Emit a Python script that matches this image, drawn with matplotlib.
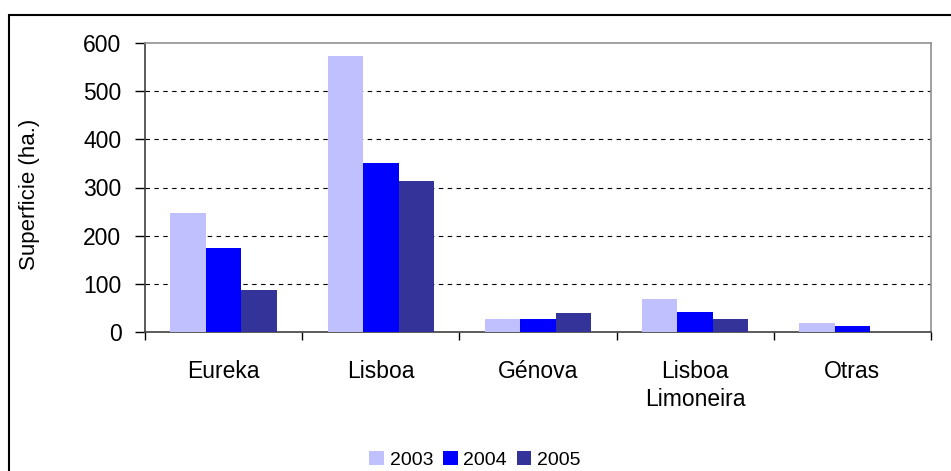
import numpy as np
import matplotlib.pyplot as plt
from matplotlib.patches import Rectangle

plt.rcParams['font.family'] = ['Liberation Sans', 'DejaVu Sans']

categories = ["Eureka", "Lisboa", "Génova", "Lisboa\nLimoneira", "Otras"]
years = ["2003", "2004", "2005"]
v2003 = [247, 573, 28, 68, 18]
v2004 = [174, 351, 28, 41, 12]
v2005 = [87, 313, 39, 28, 0]
colors = ["#C0C0FF", "#0000FF", "#333399"]

fig = plt.figure(figsize=(9.51, 4.71), dpi=100)
ax = fig.add_axes([145 / 951, 1 - 332 / 471, 786 / 951, 289 / 471])

x = np.arange(len(categories))
w = 0.226
for i, (vals, yr) in enumerate(zip([v2003, v2004, v2005], years)):
    ax.bar(x + (i - 1) * w, vals, w, color=colors[i], label=yr, zorder=3)

ax.set_xlim(-0.5, len(categories) - 0.5)
ax.set_ylim(0, 600)
ax.set_yticks(range(0, 601, 100))
ax.tick_params(axis='y', labelsize=16.5, length=7, width=1, pad=10, colors='black')

# category boundaries as major ticks, names on minor ticks
ax.set_xticks(np.arange(-0.5, len(categories), 1.0))
ax.set_xticklabels([])
ax.set_xticks(x, minor=True)
labs = ax.set_xticklabels(categories, minor=True, fontsize=16.5)
for t in labs:
    t.set_linespacing(1.3)
ax.tick_params(axis='x', which='major', length=6, width=1)
ax.tick_params(axis='x', which='minor', length=0, pad=20)

for y in range(100, 600, 100):
    ax.axhline(y, color='black', lw=0.8, ls=(0, (4, 4)), zorder=1)

ax.spines['left'].set_color('#404040')
ax.spines['bottom'].set_color('#404040')
ax.spines['top'].set_color('#909090')
ax.spines['right'].set_color('#909090')
for s in ax.spines.values():
    s.set_linewidth(1.2)

ax.set_ylabel("Superficie (ha.)", fontsize=16)
ax.yaxis.set_label_coords(-0.134, 0.477)

fig.legend(loc='center', bbox_to_anchor=(475 / 951, 1 - 460 / 471), ncol=3,
           frameon=False, fontsize=14, handlelength=0.75, handleheight=0.75,
           handletextpad=0.3, columnspacing=0.5)

fig.patches.append(Rectangle((9 / 951, -0.2), 1.2, 1.2 - 15 / 471,
                             transform=fig.transFigure, fill=False,
                             edgecolor='black', lw=1.5, clip_on=False))

fig.savefig("out.png", dpi=100)
